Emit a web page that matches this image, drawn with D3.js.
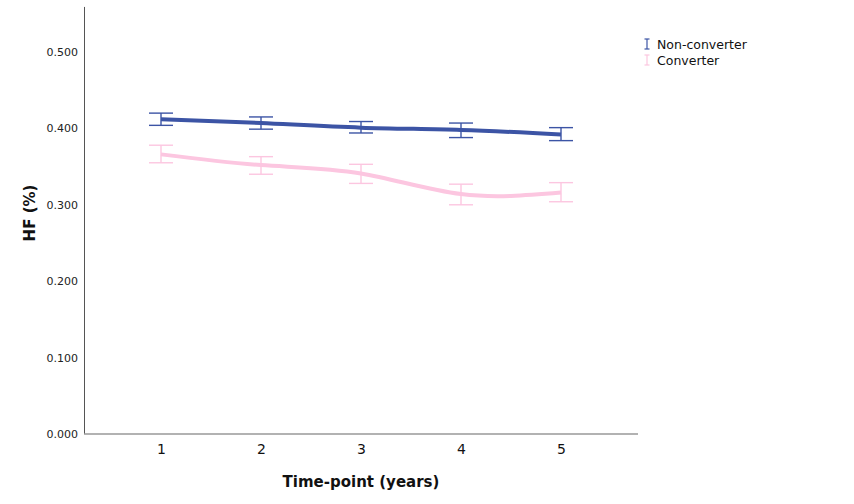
<!DOCTYPE html>
<html>
<head>
<meta charset="utf-8">
<script src="https://cdn.jsdelivr.net/npm/d3@7"></script>
<style>
  body { margin: 0; background: #fff; }
  svg { font-family: "DejaVu Sans", sans-serif; }
</style>
</head>
<body>
<div id="chart"></div>
<script>
// Data
const timepoints = [1, 2, 3, 4, 5];
const seriesNames = ["Non-converter", "Converter"];
const nonMean = [0.412, 0.407, 0.401, 0.398, 0.392];
const nonHi   = [0.420, 0.415, 0.409, 0.407, 0.401];
const nonLo   = [0.404, 0.399, 0.394, 0.388, 0.384];
const convMean = [0.366, 0.352, 0.341, 0.314, 0.316];
const convHi   = [0.378, 0.363, 0.353, 0.327, 0.329];
const convLo   = [0.355, 0.340, 0.328, 0.300, 0.304];
const yTicks = [0, 0.1, 0.2, 0.3, 0.4, 0.5];

const width = 854, height = 504;
const colors = ["#3c54a5", "#fcc6e0"];

const svg = d3.select("#chart").append("svg")
    .attr("width", width)
    .attr("height", height);

const x = d3.scalePoint()
    .domain(timepoints)
    .range([84, 638])
    .padding(0.77);

const y = d3.scaleLinear()
    .domain([0, 0.5])
    .range([434, 52]);

// axes lines
svg.append("line")
    .attr("x1", 84.5).attr("x2", 84.5)
    .attr("y1", y(0.559)).attr("y2", y(0))
    .attr("stroke", "#555").attr("stroke-width", 1);

svg.append("line")
    .attr("x1", 84).attr("x2", 638)
    .attr("y1", y(0)).attr("y2", y(0))
    .attr("stroke", "#999").attr("stroke-width", 1.5);

// y tick labels
const yAxis = d3.axisLeft(y)
    .tickValues(yTicks)
    .tickFormat(d3.format(".3f"))
    .tickSize(0)
    .tickPadding(6);

svg.append("g")
    .attr("transform", "translate(84,0)")
    .call(yAxis)
    .call(g => g.select(".domain").remove())
    .call(g => g.selectAll("text")
        .attr("font-family", "DejaVu Sans")
        .attr("font-size", "11px")
        .attr("fill", "#222"));

// x tick labels
const xAxis = d3.axisBottom(x)
    .tickSize(0)
    .tickPadding(10);

svg.append("g")
    .attr("transform", `translate(0,${y(0)})`)
    .call(xAxis)
    .call(g => g.select(".domain").remove())
    .call(g => g.selectAll("text")
        .attr("font-family", "DejaVu Sans")
        .attr("font-size", "14px")
        .attr("fill", "#111"));

// axis titles
svg.append("text")
    .attr("x", 361)
    .attr("y", 487)
    .attr("text-anchor", "middle")
    .attr("font-size", "15px")
    .attr("font-weight", "bold")
    .attr("fill", "#111")
    .text("Time-point (years)");

svg.append("text")
    .attr("transform", "translate(35,213) rotate(-90)")
    .attr("text-anchor", "middle")
    .attr("font-size", "15px")
    .attr("font-weight", "bold")
    .attr("fill", "#111")
    .text("HF (%)");

const series = [
    { name: seriesNames[0], mean: nonMean, hi: nonHi, lo: nonLo, color: colors[0] },
    { name: seriesNames[1], mean: convMean, hi: convHi, lo: convLo, color: colors[1] }
];

const line = d3.line()
    .x((d, i) => x(timepoints[i]))
    .y(d => y(d))
    .curve(d3.curveNatural);

const capW = 12;

series.forEach(s => {
    const g = svg.append("g");

    // error bars
    timepoints.forEach((t, i) => {
        g.append("line")
            .attr("x1", x(t)).attr("x2", x(t))
            .attr("y1", y(s.hi[i])).attr("y2", y(s.lo[i]))
            .attr("stroke", s.color).attr("stroke-width", 1.4);
        [s.hi[i], s.lo[i]].forEach(v => {
            g.append("line")
                .attr("x1", x(t) - capW).attr("x2", x(t) + capW)
                .attr("y1", y(v)).attr("y2", y(v))
                .attr("stroke", s.color).attr("stroke-width", 1.4);
        });
    });

    // mean line
    g.append("path")
        .datum(s.mean)
        .attr("d", line)
        .attr("fill", "none")
        .attr("stroke", s.color)
        .attr("stroke-width", 4);
});

// legend
const legend = svg.append("g").attr("transform", "translate(647,44)");
series.forEach((s, i) => {
    const ly = i * 16;
    const lg = legend.append("g").attr("transform", `translate(0,${ly})`);
    lg.append("line").attr("x1", 0).attr("x2", 0).attr("y1", -5).attr("y2", 5)
        .attr("stroke", s.color).attr("stroke-width", 1.2);
    lg.append("line").attr("x1", -2.5).attr("x2", 2.5).attr("y1", -5).attr("y2", -5)
        .attr("stroke", s.color).attr("stroke-width", 1.2);
    lg.append("line").attr("x1", -2.5).attr("x2", 2.5).attr("y1", 5).attr("y2", 5)
        .attr("stroke", s.color).attr("stroke-width", 1.2);
    lg.append("text")
        .attr("x", 10)
        .attr("y", 4.5)
        .attr("font-size", "12.5px")
        .attr("fill", "#111")
        .text(s.name);
});
</script>
</body>
</html>
